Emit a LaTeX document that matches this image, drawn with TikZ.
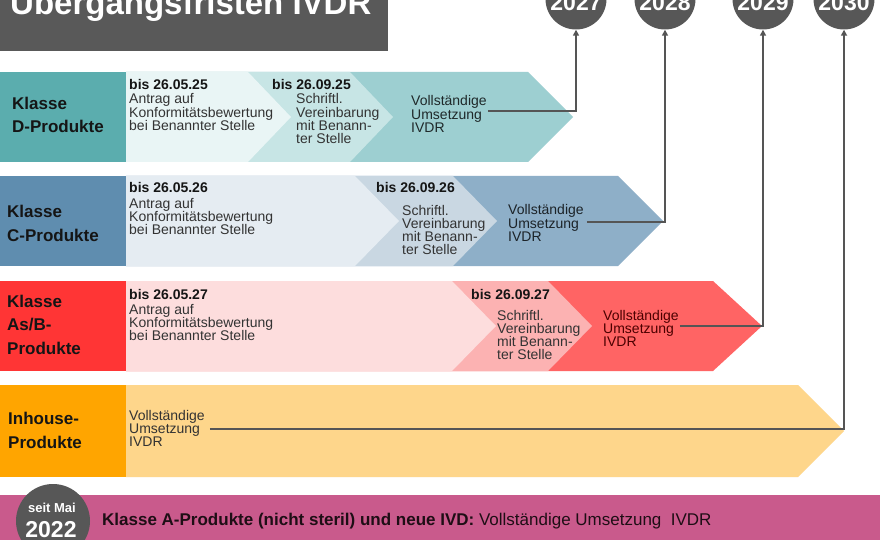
\documentclass[tikz,border=0pt]{standalone}
\usepackage{fontspec}
\setmainfont{Liberation Sans}
\usetikzlibrary{arrows.meta}
\newcommand\tightls{\lineskiplimit=-30pt\relax}
\definecolor{titlegrey}{HTML}{595959}
\definecolor{circgrey}{HTML}{575757}
\definecolor{linegrey}{HTML}{555555}
\definecolor{dL}{HTML}{5BADAE}
\definecolor{dA}{HTML}{E9F5F5}
\definecolor{dB}{HTML}{C7E5E5}
\definecolor{dC}{HTML}{9DCFD1}
\definecolor{cL}{HTML}{5F8DAF}
\definecolor{cA}{HTML}{E5ECF2}
\definecolor{cB}{HTML}{C9D7E2}
\definecolor{cC}{HTML}{8EAFC8}
\definecolor{bL}{HTML}{FF3535}
\definecolor{bA}{HTML}{FDDDDD}
\definecolor{bB}{HTML}{FCB2B2}
\definecolor{bC}{HTML}{FF6464}
\definecolor{iL}{HTML}{FFA500}
\definecolor{iA}{HTML}{FED68B}
\definecolor{pinkbar}{HTML}{C95A8C}
\definecolor{txtdark}{HTML}{151515}
\definecolor{txtbody}{HTML}{333333}
\begin{document}
\begin{tikzpicture}[x=1pt,y=-1pt,
  head/.style={anchor=base west, align=left, inner sep=0pt, text=txtdark,
    font=\tightls\bfseries\fontsize{17}{23.5}\selectfont},
  datelbl/.style={anchor=base west, inner sep=0pt, text=txtdark,
    font=\bfseries\fontsize{14}{16}\selectfont},
  body/.style={anchor=base west, align=left, inner sep=0pt, text=txtbody,
    font=\tightls\fontsize{14}{13.3}\selectfont},
  yearcirc/.style={circle, fill=circgrey, minimum size=61pt, inner sep=0pt},
  yeartxt/.style={anchor=base, inner sep=0pt, text=white,
    font=\bfseries\fontsize{23}{26}\selectfont},
  conn/.style={draw=linegrey, line width=1.5pt, -{Triangle[length=6pt,width=6pt]}}
]
\clip (0,0) rectangle (880,540);
\fill[white] (0,0) rectangle (880,540);

% title
\fill[titlegrey] (0,-10) rectangle (388,51);
\node[anchor=base west, inner sep=0pt, text=white,
  font=\bfseries\fontsize{33}{36}\selectfont] (title) at (10,15) {Übergangsfristen IVDR};

% year circles
\node[yearcirc] (y27) at (576,-1) {};
\node[yeartxt] (y27t) at (576,11) {2027};
\node[yearcirc] (y28) at (665,-1) {};
\node[yeartxt] (y28t) at (665,11) {2028};
\node[yearcirc] (y29) at (763,-1) {};
\node[yeartxt] (y29t) at (763,11) {2029};
\node[yearcirc] (y30) at (844,-1) {};
\node[yeartxt] (y30t) at (844,11) {2030};

% Row D
\fill[dC] (126,72) -- (528,72) -- (573,117) -- (528,162) -- (126,162) -- cycle;
\fill[dB] (126,72) -- (350,72) -- (393,117) -- (350,162) -- (126,162) -- cycle;
\fill[dA] (126,72) -- (248,72) -- (291,117) -- (248,162) -- (126,162) -- cycle;
\fill[dL] (0,72) rectangle (126,162);
\node[head] (hD) at (12,133) {Klasse\\D-Produkte};
\node[datelbl] (dD1) at (129,90) {bis 26.05.25};
\node[body] (tD1) at (129,130.6) {Antrag auf\\Konformitätsbewertung\\bei Benannter Stelle};
\node[datelbl] (dD2) at (272,90) {bis 26.09.25};
\node[body] (tD2) at (296,143.9) {Schriftl.\\Vereinbarung\\mit Benann-\\ter Stelle};
\node[body, text=black!80!dC] (vD) at (411,132.6) {Vollständige\\Umsetzung\\IVDR};

% Row C
\fill[cC] (126,176) -- (618,176) -- (663,221) -- (618,266) -- (126,266) -- cycle;
\fill[cB] (126,176) -- (453,176) -- (497,221) -- (453,266) -- (126,266) -- cycle;
\fill[cA] (126,176) -- (355,176) -- (399,221) -- (355,266) -- (126,266) -- cycle;
\fill[cL] (0,176) rectangle (126,266);
\node[head] (hC) at (7,241) {Klasse\\C-Produkte};
\node[datelbl] (dC1) at (129,193) {bis 26.05.26};
\node[body] (tC1) at (129,234.6) {Antrag auf\\Konformitätsbewertung\\bei Benannter Stelle};
\node[datelbl] (dC2) at (376,193) {bis 26.09.26};
\node[body] (tC2) at (402,254.9) {Schriftl.\\Vereinbarung\\mit Benann-\\ter Stelle};
\node[body, text=black!80!cC] (vC) at (508,241.6) {Vollständige\\Umsetzung\\IVDR};

% Row As/B
\fill[bC] (126,281) -- (713,281) -- (762,326) -- (713,371) -- (126,371) -- cycle;
\fill[bB] (126,281) -- (548,281) -- (592,326) -- (548,371) -- (126,371) -- cycle;
\fill[bA] (126,281) -- (452,281) -- (496,326) -- (452,371) -- (126,371) -- cycle;
\fill[bL] (0,281) rectangle (126,371);
\node[head] (hB) at (7,354) {Klasse\\As/B-\\Produkte};
\node[datelbl] (dB1) at (129,299) {bis 26.05.27};
\node[body] (tB1) at (129,340.6) {Antrag auf\\Konformitätsbewertung\\bei Benannter Stelle};
\node[datelbl] (dB2) at (471,299) {bis 26.09.27};
\node[body] (tB2) at (497,359.9) {Schriftl.\\Vereinbarung\\mit Benann-\\ter Stelle};
\node[body, text=black!70!red] (vB) at (603,346.6) {Vollständige\\Umsetzung\\IVDR};

% Row Inhouse
\fill[iA] (126,385) -- (798,385) -- (844,431) -- (798,477) -- (126,477) -- cycle;
\fill[iL] (0,385) rectangle (126,477);
\node[head] (hI) at (8,448) {Inhouse-\\Produkte};
\node[body] (vI) at (129,446.6) {Vollständige\\Umsetzung\\IVDR};

% connectors
\coordinate (t27) at (576,111);
\coordinate (t28) at (665,222);
\coordinate (t29) at (763,326);
\coordinate (t30) at (844,429);
\draw[conn] ([xshift=1pt]vD.east |- t27) -- (t27) -- (y27.south);
\draw[conn] ([xshift=3pt]vC.east |- t28) -- (t28) -- (y28.south);
\draw[conn] ([xshift=1pt]vB.east |- t29) -- (t29) -- (y29.south);
\draw[conn] ([xshift=5pt]vI.east |- t30) -- (t30) -- (y30.south);

% bottom bar
\fill[pinkbar] (0,495) rectangle (880,545);
\node[circle, fill=circgrey, minimum size=74pt, inner sep=0pt] (c22) at (53,521) {};
\node[anchor=base, inner sep=0pt, text=white, font=\bfseries\fontsize{13}{15}\selectfont] (seit) at (52,512) {seit Mai};
\node[anchor=base, inner sep=0pt, text=white, font=\bfseries\fontsize{23}{26}\selectfont] (y22) at (51,537) {2022};
\node[anchor=base west, inner sep=0pt, text=black!85!pinkbar, font=\fontsize{17}{20}\selectfont] (bottomtxt) at (102,525)
  {\textbf{Klasse A-Produkte (nicht steril) und neue IVD:} Vollständige Umsetzung\ \ IVDR};
\end{tikzpicture}
\end{document}
